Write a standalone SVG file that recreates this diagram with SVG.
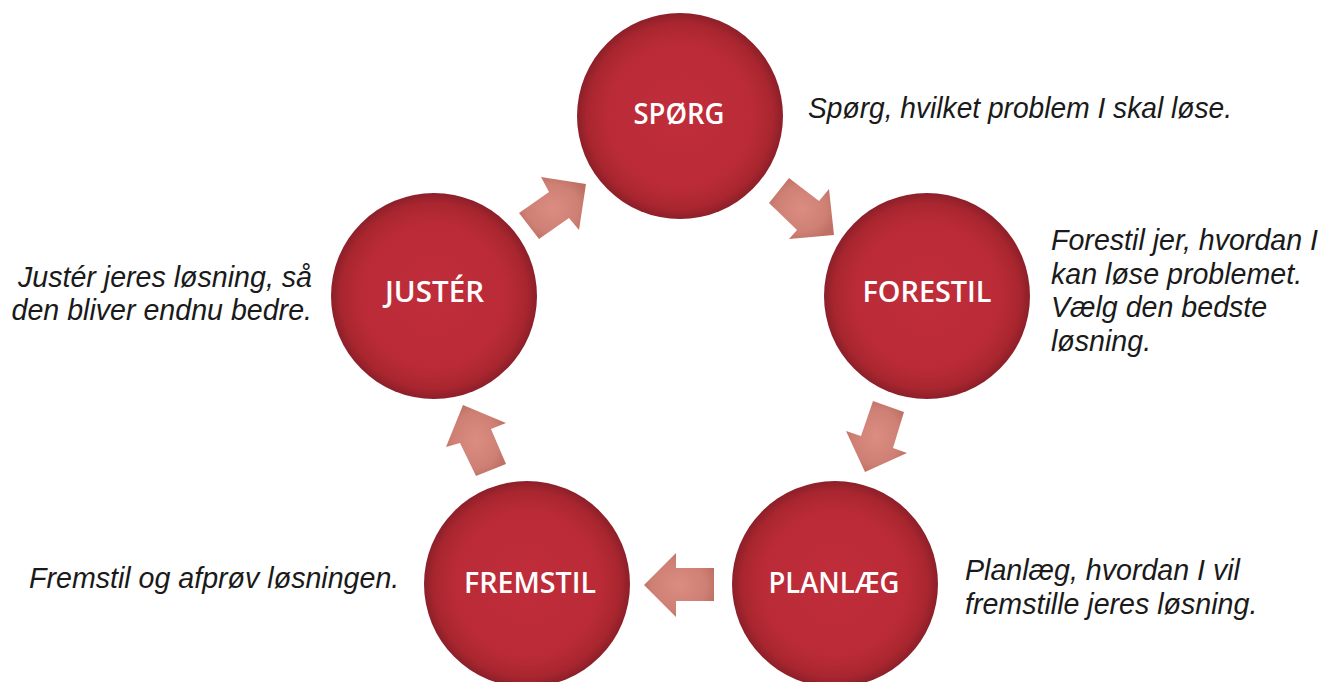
<svg xmlns="http://www.w3.org/2000/svg" width="1328" height="682" viewBox="0 0 1328 682">
<defs>
<radialGradient id="gc" cx="0.5" cy="0.5" r="0.5">
<stop offset="0" stop-color="#c02d3a"/>
<stop offset="0.7" stop-color="#ba2b37"/>
<stop offset="0.9" stop-color="#a9262f"/>
<stop offset="1" stop-color="#8c1f29"/>
</radialGradient>
<radialGradient id="ga" cx="0.5" cy="0.5" r="0.55">
<stop offset="0" stop-color="#dc8d81"/>
<stop offset="0.7" stop-color="#cf8074"/>
<stop offset="1" stop-color="#bf7064"/>
</radialGradient>
</defs>
<style>
.c{fill:url(#gc);}
.a{fill:url(#ga);}
.l{font-family:"Open Sans","Liberation Sans",sans-serif;font-weight:600;font-size:28.5px;fill:#ffffff;text-anchor:middle;}
.d{font-family:"Liberation Sans","Open Sans",sans-serif;font-style:italic;font-size:28.6px;fill:#1a1a1a;}
.r{text-anchor:end;}
</style>
<rect width="1328" height="682" fill="#ffffff"/>
<g id="connectors">
<polygon class="a" points="519,213 549,192 541,177 586,184 579,230 569,218 539,239"/>
<polygon class="a" points="789,178 819,201 829,189 834,235 789,239 797,230 769,203"/>
<polygon class="a" points="873,401 904,412 893,448 907,453 865,472 846,431 861,436"/>
<polygon class="a" points="714,568 714,601 676,601 676,617 644,585 676,553 676,568"/>
<polygon class="a" points="506,464 476,476 460,443 446,447 463,405 506,423 491,429"/>
</g>
<g id="spoerg">
<circle class="c" cx="680" cy="116" r="103"/>
<text class="l" x="679" y="124" textLength="91" lengthAdjust="spacingAndGlyphs">SPØRG</text>
<text class="d" x="808" y="118" textLength="424" lengthAdjust="spacingAndGlyphs">Spørg, hvilket problem I skal løse.</text>
</g>
<g id="forestil">
<circle class="c" cx="927" cy="296" r="103"/>
<text class="l" x="927" y="302" textLength="129" lengthAdjust="spacingAndGlyphs">FORESTIL</text>
<text class="d" x="1051" y="250">Forestil jer, hvordan I</text>
<text class="d" x="1051" y="284">kan løse problemet.</text>
<text class="d" x="1051" y="317">Vælg den bedste</text>
<text class="d" x="1051" y="351">løsning.</text>
</g>
<g id="planlaeg">
<circle class="c" cx="835" cy="584" r="103"/>
<text class="l" x="834" y="593" textLength="131" lengthAdjust="spacingAndGlyphs">PLANLÆG</text>
<text class="d" x="965" y="580">Planlæg, hvordan I vil</text>
<text class="d" x="965" y="614">fremstille jeres løsning.</text>
</g>
<g id="fremstil">
<circle class="c" cx="527" cy="584" r="103"/>
<text class="l" x="530" y="593" textLength="132" lengthAdjust="spacingAndGlyphs">FREMSTIL</text>
<text class="d" x="29" y="588">Fremstil og afprøv løsningen.</text>
</g>
<g id="juster">
<circle class="c" cx="434" cy="296" r="103"/>
<text class="l" x="434.5" y="302" textLength="99" lengthAdjust="spacingAndGlyphs">JUSTÉR</text>
<text class="d r" x="312" y="287">Justér jeres løsning, så</text>
<text class="d r" x="312" y="320">den bliver endnu bedre.</text>
</g>
</svg>
